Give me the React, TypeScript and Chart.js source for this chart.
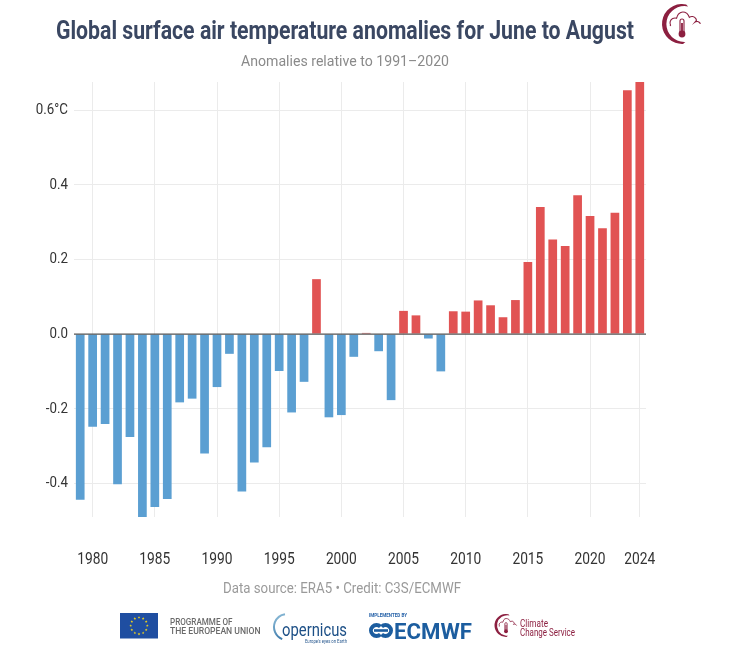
import React, { useEffect, useRef } from 'react';
import { Chart, registerables } from 'chart.js';

Chart.register(...registerables);

const years = [
  '1979', '1980', '1981', '1982', '1983', '1984', '1985', '1986', '1987', '1988',
  '1989', '1990', '1991', '1992', '1993', '1994', '1995', '1996', '1997', '1998',
  '1999', '2000', '2001', '2002', '2003', '2004', '2005', '2006', '2007', '2008',
  '2009', '2010', '2011', '2012', '2013', '2014', '2015', '2016', '2017', '2018',
  '2019', '2020', '2021', '2022', '2023', '2024',
];

const anomalies = [
  -0.444, -0.248, -0.241, -0.402, -0.276, -0.490, -0.463, -0.442, -0.183, -0.173,
  -0.320, -0.142, -0.053, -0.422, -0.344, -0.303, -0.099, -0.210, -0.128, 0.147,
  -0.223, -0.217, -0.061, 0.003, -0.046, -0.177, 0.062, 0.050, -0.012, -0.100,
  0.061, 0.060, 0.090, 0.077, 0.045, 0.091, 0.193, 0.340, 0.253, 0.236,
  0.372, 0.316, 0.283, 0.325, 0.653, 0.675,
];

const labeledYears = ['1980', '1985', '1990', '1995', '2000', '2005', '2010', '2015', '2020', '2024'];
const yTickValues = [-0.4, -0.2, 0, 0.2, 0.4, 0.6];

const titleText = 'Global surface air temperature anomalies for June to August';
const subtitleText = 'Anomalies relative to 1991\u20132020';
const sourceText = 'Data source: ERA5 \u2022 Credit: C3S/ECMWF';

const warmColor = '#e15353';
const coolColor = '#5b9fd2';
const gridColor = '#ebebeb';
const maroon = '#8c1f40';

const formatY = (v: number) => (Math.abs(v - 0.6) < 1e-9 ? '0.6\u00b0C' : v.toFixed(1));

function drawText(
  ctx: CanvasRenderingContext2D,
  text: string,
  font: string,
  color: string,
  x: number,
  y: number,
  opts: { width?: number; sx?: number; align?: CanvasTextAlign; baseline?: CanvasTextBaseline }
) {
  ctx.save();
  ctx.font = font;
  ctx.fillStyle = color;
  ctx.textBaseline = opts.baseline || 'alphabetic';
  ctx.textAlign = opts.align || 'left';
  const w = ctx.measureText(text).width;
  const s = opts.width ? opts.width / w : opts.sx || 1;
  ctx.translate(x, y);
  ctx.scale(s, 1);
  ctx.fillText(text, 0, 0);
  ctx.restore();
}

function drawStar(ctx: CanvasRenderingContext2D, cx: number, cy: number, r: number) {
  ctx.beginPath();
  for (let k = 0; k < 10; k++) {
    const rr = k % 2 === 0 ? r : r * 0.45;
    const a = -Math.PI / 2 + (k * Math.PI) / 5;
    const px = cx + rr * Math.cos(a);
    const py = cy + rr * Math.sin(a);
    if (k === 0) ctx.moveTo(px, py);
    else ctx.lineTo(px, py);
  }
  ctx.closePath();
  ctx.fill();
}

function drawC3SIcon(ctx: CanvasRenderingContext2D, cx: number, cy: number, r: number) {
  ctx.save();
  ctx.fillStyle = maroon;
  ctx.strokeStyle = maroon;
  const a0 = (87 * Math.PI) / 180;
  const a1 = (282 * Math.PI) / 180;
  ctx.beginPath();
  ctx.arc(cx, cy, r, a0, a1, false);
  ctx.arc(cx + r * 0.12, cy, r * 0.9, a1, a0, true);
  ctx.closePath();
  ctx.fill();
  const s = r / 20;
  ctx.lineWidth = Math.max(0.8, 1.1 * s);
  ctx.beginPath();
  ctx.moveTo(cx - 12 * s, cy + 2 * s);
  ctx.arc(cx - 7 * s, cy - 1 * s, 5 * s, Math.PI * 0.85, Math.PI * 1.6, false);
  ctx.arc(cx + 1 * s, cy - 6 * s, 6 * s, Math.PI * 1.1, Math.PI * 1.85, false);
  ctx.arc(cx + 10 * s, cy - 3 * s, 4.5 * s, Math.PI * 1.3, Math.PI * 1.95, false);
  ctx.arc(cx + 15 * s, cy + 1 * s, 3.5 * s, Math.PI * 1.3, Math.PI * 1.9, false);
  ctx.stroke();
  const tx = cx;
  ctx.beginPath();
  ctx.moveTo(tx - 2 * s, cy + 8 * s);
  ctx.lineTo(tx - 2 * s, cy - 3 * s);
  ctx.arc(tx, cy - 3 * s, 2 * s, Math.PI, 0, false);
  ctx.lineTo(tx + 2 * s, cy + 8 * s);
  ctx.stroke();
  ctx.beginPath();
  ctx.arc(tx, cy + 10 * s, 3.4 * s, 0, Math.PI * 2);
  ctx.fill();
  ctx.fillRect(tx - 0.9 * s, cy - 1 * s, 1.8 * s, 10 * s);
  ctx.restore();
}

const decorPlugin = {
  id: 'decor',
  afterDatasetsDraw(chart: any) {
    const { ctx, chartArea, scales } = chart;
    const y0 = scales.y.getPixelForValue(0);
    ctx.save();
    ctx.strokeStyle = '#555555';
    ctx.lineWidth = 1.3;
    ctx.beginPath();
    ctx.moveTo(chartArea.left, y0);
    ctx.lineTo(chartArea.right, y0);
    ctx.stroke();
    ctx.restore();
  },
  afterDraw(chart: any) {
    const { ctx, scales } = chart;
    const xs = scales.x;
    const ys = scales.y;
    const cond = 0.86;

    xs.ticks.forEach((t: any, i: number) => {
      if (!t.label) return;
      const px = xs.getPixelForTick(i);
      drawText(ctx, String(t.label), '16px Roboto', '#333333', px, 560, { sx: cond, align: 'center', baseline: 'middle' });
    });
    ys.ticks.forEach((t: any) => {
      const py = ys.getPixelForValue(t.value);
      drawText(ctx, formatY(t.value), '15.5px Roboto', '#333333', 68, py, { sx: cond, align: 'right', baseline: 'middle' });
    });

    drawText(ctx, titleText, 'bold 26px Roboto', '#3a4762', 345, 39, { width: 578, align: 'center' });
    drawText(ctx, subtitleText, '15px Roboto', '#8a8a8a', 345, 65.5, { width: 208, align: 'center' });
    drawText(ctx, sourceText, '15.5px Roboto', '#9a9a9a', 342, 593, { width: 238, align: 'center' });

    drawC3SIcon(ctx, 682, 24, 20);

    ctx.save();
    ctx.fillStyle = '#1f4ea1';
    ctx.fillRect(120, 613, 38, 25.5);
    ctx.fillStyle = '#f2d31b';
    for (let k = 0; k < 12; k++) {
      const a = (k * Math.PI) / 6;
      drawStar(ctx, 139 + 8.3 * Math.cos(a), 625.7 + 8.3 * Math.sin(a), 1.4);
    }
    ctx.restore();
    drawText(ctx, 'PROGRAMME OF', '500 9.5px Roboto', '#6a6a6a', 170, 625, { width: 62.5 });
    drawText(ctx, 'THE EUROPEAN UNION', '500 9.5px Roboto', '#6a6a6a', 170, 633.5, { width: 90.5 });

    ctx.save();
    const grad = ctx.createLinearGradient(272, 612, 290, 640);
    grad.addColorStop(0, '#9bc8e0');
    grad.addColorStop(1, '#2a6aa0');
    ctx.strokeStyle = grad;
    ctx.lineWidth = 2;
    ctx.beginPath();
    ctx.arc(287, 627, 13, Math.PI * 0.62, Math.PI * 1.45, false);
    ctx.stroke();
    ctx.restore();
    drawText(ctx, 'opernicus', '18px Roboto', '#1c4f86', 282, 636, { width: 65 });
    drawText(ctx, "Europe's eyes on Earth", '5px Roboto', '#2a5a90', 305, 642.5, { width: 42 });

    drawText(ctx, 'IMPLEMENTED BY', 'bold 4.5px Roboto', '#2a65aa', 369, 617, { width: 38 });
    ctx.save();
    ctx.strokeStyle = '#1c5d9f';
    ctx.lineWidth = 4;
    ctx.beginPath();
    ctx.arc(376.5, 630.5, 5.5, Math.PI * 0.25, Math.PI * 1.75, false);
    ctx.stroke();
    ctx.beginPath();
    ctx.arc(385.5, 630.5, 5.5, Math.PI * 1.25, Math.PI * 0.75, false);
    ctx.stroke();
    ctx.fillStyle = '#1c5d9f';
    ctx.fillRect(374, 629.2, 14, 2.6);
    ctx.restore();
    drawText(ctx, 'ECMWF', 'bold 22px Roboto', '#1c5d9f', 394, 638.5, { width: 78 });

    drawC3SIcon(ctx, 506, 625.5, 11.5);
    drawText(ctx, 'Climate', '10.5px Roboto', maroon, 520, 626.5, { width: 28 });
    drawText(ctx, 'Change Service', '10.5px Roboto', maroon, 520, 635.5, { width: 55 });
  },
};

export default function App() {
  const canvasRef = useRef<HTMLCanvasElement | null>(null);

  useEffect(() => {
    if (!canvasRef.current) return;
    const chart = new Chart(canvasRef.current, {
      type: 'bar',
      data: {
        labels: years,
        datasets: [
          {
            data: anomalies,
            backgroundColor: anomalies.map((v) => (v >= 0 ? warmColor : coolColor)),
            borderWidth: 0,
            barPercentage: 0.7,
            categoryPercentage: 1,
          },
        ],
      },
      options: {
        animation: false,
        responsive: false,
        layout: { padding: { top: 82, right: 86, bottom: 71, left: 0 } },
        plugins: {
          legend: { display: false },
          tooltip: { enabled: false },
          title: { display: false },
        },
        scales: {
          x: {
            offset: true,
            grid: {
              offset: false,
              drawTicks: false,
              lineWidth: 1,
              color: (c: any) => (c.tick && labeledYears.includes(String(c.tick.label)) ? gridColor : 'rgba(0,0,0,0)'),
            },
            border: { display: false },
            ticks: {
              autoSkip: false,
              maxRotation: 0,
              minRotation: 0,
              color: 'rgba(0,0,0,0)',
              font: { size: 16, family: 'Roboto' },
              callback: (_v: any, i: number) => (labeledYears.includes(years[i]) ? years[i] : ''),
            },
            afterFit: (s: any) => {
              s.height = 60;
            },
          },
          y: {
            min: Math.min(...anomalies),
            max: Math.max(...anomalies),
            afterBuildTicks: (s: any) => {
              s.ticks = yTickValues.map((v) => ({ value: v }));
            },
            grid: {
              drawTicks: false,
              lineWidth: 1,
              color: (c: any) => (c.tick && Math.abs(c.tick.value) < 1e-9 ? 'rgba(0,0,0,0)' : gridColor),
            },
            border: { display: false },
            ticks: {
              color: 'rgba(0,0,0,0)',
              font: { size: 15, family: 'Roboto' },
              callback: (v: any) => formatY(Number(v)),
            },
            afterFit: (s: any) => {
              s.width = 74;
            },
          },
        },
      },
      plugins: [decorPlugin],
    });
    return () => chart.destroy();
  }, []);

  return (
    <div style={{ position: 'fixed', left: 0, top: 0, width: 732, height: 648, background: '#ffffff' }}>
      <canvas ref={canvasRef} width={732} height={648} style={{ width: 732, height: 648, display: 'block' }} />
    </div>
  );
}
